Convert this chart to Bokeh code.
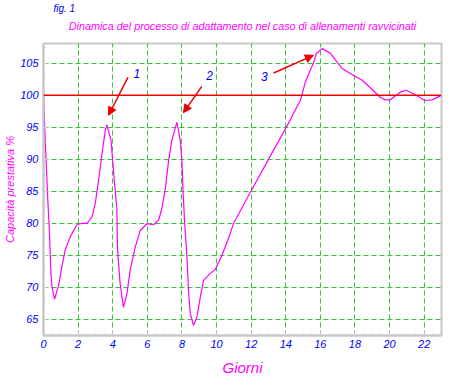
from bokeh.plotting import figure
from bokeh.models import Label, Arrow, NormalHead, FixedTicker, Span, Range1d, Title
from bokeh.embed import file_html
from bokeh.resources import INLINE

# ---- data ----
days = [0.00, 0.10, 0.25, 0.33, 0.43, 0.49, 0.64, 0.87, 1.06, 1.25, 1.54, 1.93, 2.20, 2.51,
        2.80, 2.99, 3.18, 3.38, 3.57, 3.66, 3.90, 4.00, 4.09, 4.14, 4.24, 4.28, 4.43, 4.62,
        4.82, 5.01, 5.30, 5.59, 5.98, 6.36, 6.65, 6.84, 7.03, 7.23, 7.42, 7.71, 7.90, 8.00,
        8.06, 8.15, 8.29, 8.38, 8.48, 8.67, 8.87, 9.06, 9.25, 9.64, 9.92, 10.31, 10.79, 10.98,
        11.98, 13.00, 14.03, 14.84, 14.93, 15.13, 15.41, 15.60, 15.76, 16.09, 16.57, 17.25,
        17.92, 18.40, 18.69, 19.46, 19.75, 20.04, 20.62, 20.97, 21.48, 22.06, 22.45, 22.83, 22.95]
capacity = [100.0, 93.0, 83.6, 79.4, 72.2, 70.1, 68.2, 70.3, 73.2, 75.8, 77.9, 79.8, 80.0, 80.0,
            81.0, 83.1, 86.7, 90.9, 94.5, 95.4, 93.0, 89.8, 86.7, 85.2, 82.3, 75.8, 70.6, 66.9,
            69.0, 72.7, 76.3, 78.9, 79.95, 79.8, 80.5, 82.3, 85.2, 89.8, 93.0, 95.8, 93.0, 89.8,
            85.2, 80.5, 74.7, 69.5, 65.9, 64.1, 65.4, 68.5, 71.1, 72.2, 72.8, 75.0, 78.4, 80.0,
            85.0, 90.0, 95.0, 99.2, 100.0, 102.1, 103.9, 105.0, 106.5, 107.3, 106.6, 104.2,
            103.1, 102.4, 101.7, 99.7, 99.3, 99.3, 100.5, 100.8, 100.1, 99.2, 99.3, 99.8, 99.9]
reference_level = 100

x_ticks = [0, 2, 4, 6, 8, 10, 12, 14, 16, 18, 20, 22]
y_ticks = [65, 70, 75, 80, 85, 90, 95, 100, 105]

arrow_labels = ["1", "2", "3"]
arrow_label_x = [5.4, 9.6, 12.76]
arrow_label_y = [103.4, 103.1, 103.0]
arrow_x_start = [4.88, 9.15, 13.3]
arrow_y_start = [102.8, 101.4, 103.5]
arrow_x_end = [3.76, 8.09, 15.6]
arrow_y_end = [96.9, 97.3, 106.25]

FONT = "Liberation Sans"
BLUE = "#0000ff"
MAGENTA = "#ff00ff"
GREEN = "#33c033"
GREY = "#c8c8c8"
RED = "#ee0000"

p = figure(width=463, height=384, output_backend="svg", toolbar_location=None,
           x_range=Range1d(0, 23), y_range=Range1d(62.5, 108.1),
           min_border_left=43, min_border_right=22, min_border_top=43, min_border_bottom=49,
           background_fill_color="white", border_fill_color="white")

p.title.text = ""
p.title.visible = False

p.outline_line_color = GREY
p.outline_line_width = 2

minor_x = [i * 0.5 for i in range(0, 47)]
minor_y = [62.5 + i * 2.5 for i in range(0, 19)]
p.xaxis.ticker = FixedTicker(ticks=x_ticks, minor_ticks=minor_x)
p.yaxis.ticker = FixedTicker(ticks=y_ticks, minor_ticks=minor_y)
p.xgrid.ticker = FixedTicker(ticks=[t for t in x_ticks if t != 0])
p.ygrid.ticker = FixedTicker(ticks=y_ticks)

for g in (p.xgrid, p.ygrid):
    g.grid_line_color = GREEN
    g.grid_line_dash = "5 3"
    g.grid_line_width = 1

for ax in (p.xaxis, p.yaxis):
    ax.axis_line_color = GREY
    ax.axis_line_width = 2
    ax.major_tick_line_color = GREY
    ax.major_tick_in = 4
    ax.major_tick_out = 0
    ax.minor_tick_line_color = GREY
    ax.minor_tick_in = 2
    ax.minor_tick_out = 0
    ax.major_label_text_font = FONT
    ax.major_label_text_font_style = "italic"
    ax.major_label_text_color = BLUE
    ax.major_label_text_font_size = "11px"
    ax.axis_label_text_font = FONT
    ax.axis_label_text_font_style = "italic"
    ax.axis_label_text_color = MAGENTA

p.xaxis.major_label_standoff = 4
p.yaxis.major_label_standoff = 5
p.xaxis.axis_label = "Giorni"
p.xaxis.axis_label_text_font_size = "15px"
p.xaxis.axis_label_standoff = 8
p.yaxis.axis_label = "Capacità prestativa %"
p.yaxis.axis_label_text_font_size = "11px"
p.yaxis.axis_label_standoff = 1

p.add_layout(Span(location=reference_level, dimension="width", line_color=RED, line_width=1.5))

p.line(days, capacity, line_color=MAGENTA, line_width=1.2)

for xs, ys, xe, ye in zip(arrow_x_start, arrow_y_start, arrow_x_end, arrow_y_end):
    p.add_layout(Arrow(end=NormalHead(size=8, fill_color=RED, line_color=RED),
                       x_start=xs, y_start=ys, x_end=xe, y_end=ye,
                       line_color=RED, line_width=1.5))

for t, xl, yl in zip(arrow_labels, arrow_label_x, arrow_label_y):
    p.add_layout(Label(x=xl, y=yl, text=t, text_font=FONT, text_font_style="italic",
                       text_color=BLUE, text_font_size="12px", text_align="center",
                       text_baseline="middle"))

# titles above the frame (first added sits closest to the frame)
p.add_layout(Title(text="Dinamica del processo di adattamento nel caso di allenamenti ravvicinati",
                   align="center", text_font=FONT, text_font_style="italic",
                   text_color=MAGENTA, text_font_size="10.8px", standoff=24), "above")
p.add_layout(Title(text="fig. 1", align="left", offset=10, text_font=FONT,
                   text_font_style="italic", text_color=BLUE, text_font_size="10px",
                   standoff=-16), "above")

open("out.html", "w").write(file_html(p, INLINE))
